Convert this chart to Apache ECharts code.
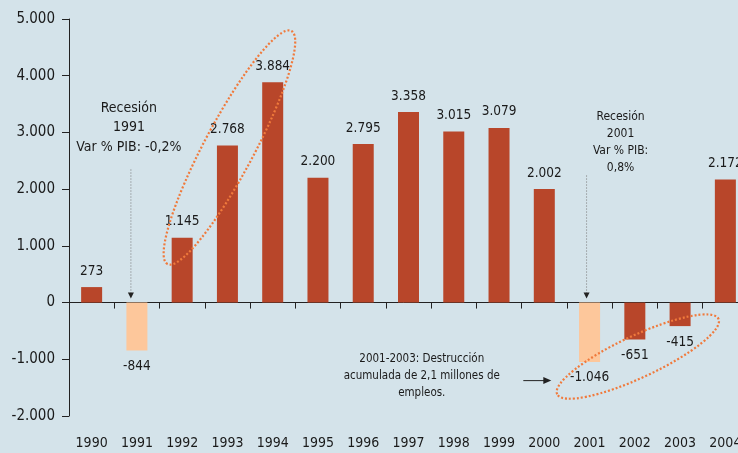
<!DOCTYPE html>
<html><head><meta charset="utf-8">
<script src="https://cdn.jsdelivr.net/npm/echarts/dist/echarts.min.js"></script>
<style>html,body{margin:0;padding:0;background:#d4e3ea}#c{width:738px;height:453px}</style>
</head><body><div id="c"></div>
<script>
// ---- data ----
const years = ['1990','1991','1992','1993','1994','1995','1996','1997','1998','1999','2000','2001','2002','2003','2004'];
const employment = [273,-844,1145,2768,3884,2200,2795,3358,3015,3079,2002,-1046,-651,-415,2172];
const recessionYears = ['1991','2001'];
const yMin = -2000, yMax = 5000, yStep = 1000;
const note1991 = 'Recesión\n1991\nVar % PIB: -0,2%';
const note2001 = 'Recesión\n2001\nVar % PIB:\n0,8%';
const note0103 = '2001-2003: Destrucción\nacumulada de 2,1 millones de\nempleos.';

const FONT = '"Liberation Sans Narrow","DejaVu Sans Condensed",sans-serif';
const DARK = '#b8462a', LIGHT = '#fdc79b', DOT = '#f07a3c', TXT = '#1a1a1a';
function fmt(v){
  const s = Math.abs(v).toString().replace(/\B(?=(\d{3})+(?!\d))/g,'.');
  return (v<0?'-':'') + s;
}
const chart = echarts.init(document.getElementById('c'));
const barData = employment.map((v,i)=>({
  value: v,
  itemStyle: {color: recessionYears.includes(years[i]) ? LIGHT : DARK},
  label: {position: v<0 ? 'bottom' : 'top'}
}));
chart.setOption({
  backgroundColor: '#d4e3ea',
  animation: false,
  grid: {left: 69, top: 19, width: 679, height: 397, containLabel: false, outerBoundsMode: 'none'},
  xAxis: [{
    type: 'category', data: years, position: 'top',
    axisLine: {onZero: true, lineStyle: {color: '#222', width: 1}},
    axisTick: {show: true, inside: true, length: 6, lineStyle: {color: '#222'}},
    axisLabel: {show: false}, splitLine: {show: false}
  },{
    type: 'category', data: years, position: 'bottom',
    axisLine: {show: false, onZero: false}, axisTick: {show: false},
    axisLabel: {color: TXT, fontFamily: FONT, fontSize: 14, margin: 20, interval: 0}
  }],
  yAxis: {
    type: 'value', min: yMin, max: yMax, interval: yStep,
    axisLine: {show: true, lineStyle: {color: '#222'}},
    axisTick: {show: true, length: 7, lineStyle: {color: '#222'}},
    splitLine: {show: false},
    axisLabel: {color: TXT, fontFamily: FONT, fontSize: 15, margin: 14, formatter: fmt}
  },
  series: [{
    type: 'bar', xAxisIndex: 0, data: barData, barWidth: 21,
    label: {show: true, color: TXT, fontFamily: FONT, fontSize: 13.5, distance: 9, formatter: p=>fmt(p.value)}
  }]
});

// annotations anchored via axes
const px = (cat, val) => chart.convertToPixel({xAxisIndex:0, yAxisIndex:0}, [cat, val]);
const deg = Math.PI/180;
const g = [];
function txt(p, dx, text, size, lh){
  g.push({type:'text', x: p[0]+dx, y: p[1], style:{text, fill: TXT, font: size+'px '+FONT, align:'center', verticalAlign:'middle', lineHeight: lh}, z: 10});
}
function vArrow(cat, dx, v1, v2){
  const a = px(cat, v1), b = px(cat, v2); const x = a[0]+dx;
  g.push({type:'line', shape:{x1:x, y1:a[1], x2:x, y2:b[1]-5}, style:{stroke:'#777', lineWidth:1, lineDash:[1,2]}, z: 10});
  g.push({type:'polygon', shape:{points:[[x-3,b[1]-6],[x+3,b[1]-6],[x,b[1]]]}, style:{fill:'#222'}, z: 10});
}
function ell(p, dx, rx, ry, rot){
  g.push({type:'ellipse', x: p[0]+dx, y: p[1], rotation: rot*deg, shape:{cx:0, cy:0, rx, ry},
    style:{fill:'none', stroke: DOT, lineWidth: 2.2, lineDash:[2,2]}, z: 9});
}
txt(px('1991', 3085), -8, note1991, 14, 19.5);
vArrow('1991', -6, 2346, 70);
txt(px('2001', 2830), 31, note2001, 12, 17);
vArrow('2001', -3, 2240, 70);
txt(px('1998', -1300), -32, note0103, 11.5, 17);
const ha = px('2000', -1376);
g.push({type:'line', shape:{x1: ha[0]-21, y1: ha[1], x2: ha[0]+4, y2: ha[1]}, style:{stroke:'#222', lineWidth:1}, z: 10});
g.push({type:'polygon', shape:{points:[[ha[0]-1, ha[1]-3.5],[ha[0]-1, ha[1]+3.5],[ha[0]+7, ha[1]]]}, style:{fill:'#222'}, z: 10});
ell(px('1993', 2734), 2, 132, 25, 62);
ell(px('2002', -952), 3, 89, 21, 25);
chart.setOption({graphic: {elements: g}});
</script></body></html>
